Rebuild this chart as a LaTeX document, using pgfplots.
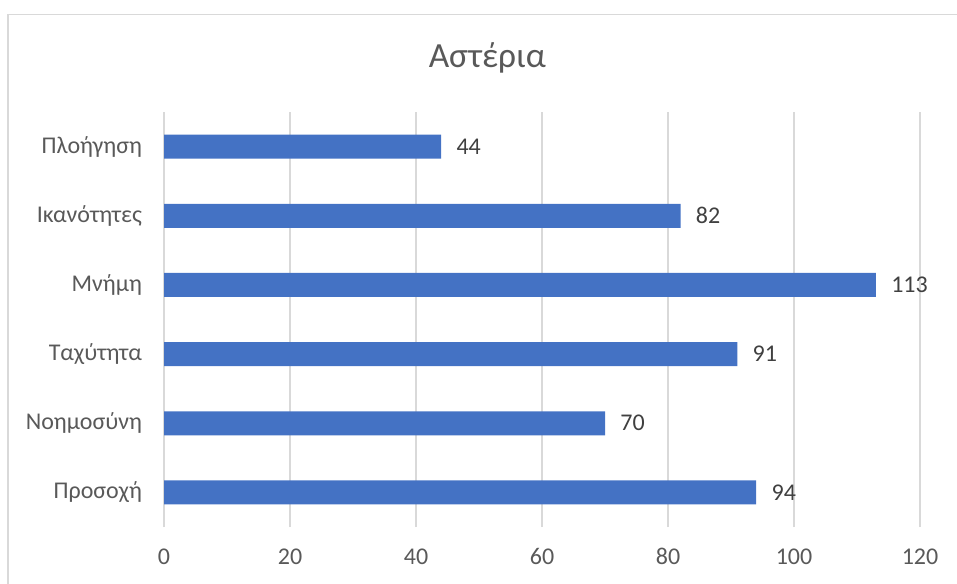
\documentclass[border=0pt]{standalone}
\usepackage{fontspec}
\setmainfont{Carlito}
\usepackage{pgfplots}
\pgfplotsset{compat=1.18}
\definecolor{barblue}{HTML}{4472C4}
\definecolor{gridgray}{HTML}{D9D9D9}
\definecolor{txtgray}{HTML}{595959}
\definecolor{lblgray}{HTML}{404040}
\begin{document}
\begin{tikzpicture}[x=1pt,y=1pt]
\useasboundingbox (0,0) rectangle (717.75,437.25);
\draw[gridgray, line width=1pt] (6,-5) -- (6,426.5) -- (725,426.5);
\node[txtgray, anchor=base, font=\fontsize{26.5}{31}\selectfont] at (365.5,386.8) {Αστέρια};
\begin{axis}[
  at={(123pt,42pt)}, anchor=south west,
  scale only axis, width=567pt, height=311.25pt,
  xbar, bar width=18pt,
  xmin=0, xmax=120, ymin=-0.5, ymax=5.5,
  xtick={0,20,40,60,80,100,120},
  ytick={0,1,2,3,4,5},
  yticklabels={Προσοχή,Νοημοσύνη,Ταχύτητα,Μνήμη,Ικανότητες,Πλοήγηση},
  xmajorgrids, major grid style={gridgray, line width=1pt},
  axis line style={draw=none},
  major tick length=0pt,
  tick style={draw=none},
  /pgf/number format/assume math mode=true,
  ticklabel style={txtgray, font=\fontsize{18}{22}\selectfont},
  yticklabel style={anchor=east, xshift=-13pt},
  xticklabel style={anchor=base, yshift=-28pt},
  nodes near coords,
  nodes near coords style={anchor=west, xshift=8pt, lblgray, font=\fontsize{18}{22}\selectfont},
  clip=false,
]
\addplot[fill=barblue, draw=none] coordinates {
  (94,0) (70,1) (91,2) (113,3) (82,4) (44,5)
};
\end{axis}
\end{tikzpicture}
\end{document}
